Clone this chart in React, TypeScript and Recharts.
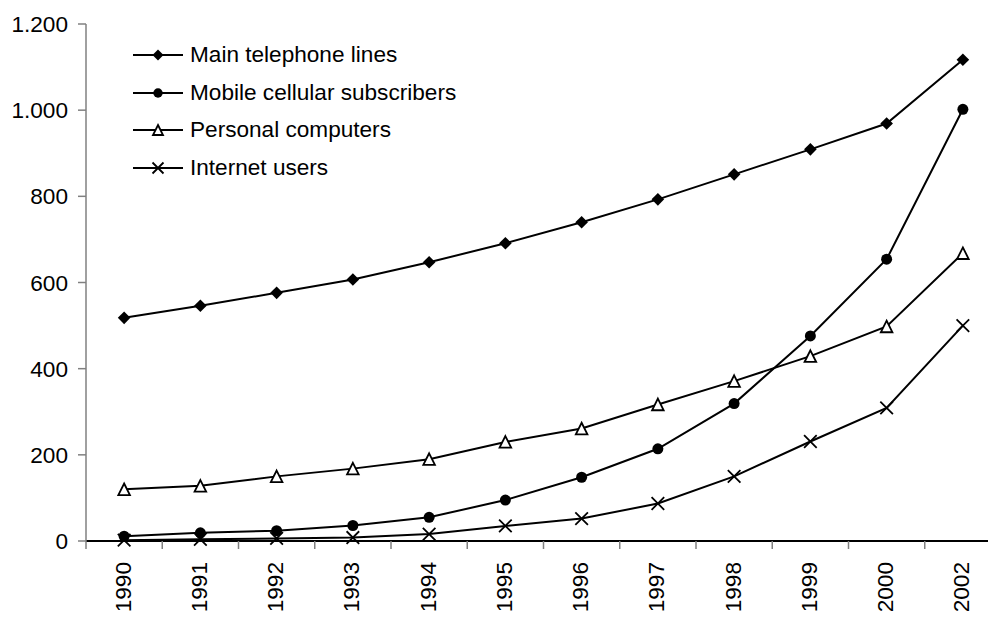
import React from 'react';
import { LineChart, Line, XAxis, YAxis, Legend } from 'recharts';

const years = ['1990', '1991', '1992', '1993', '1994', '1995', '1996', '1997', '1998', '1999', '2000', '2002'];
const mainLines = [518, 546, 576, 607, 647, 691, 740, 793, 851, 909, 969, 1117];
const mobile = [11, 19, 24, 36, 55, 95, 148, 214, 319, 476, 654, 1002];
const pcs = [120, 128, 150, 168, 190, 230, 261, 317, 371, 429, 498, 668];
const internet = [2, 4, 6, 8, 16, 35, 52, 87, 150, 231, 309, 500];
const yTicks = [0, 200, 400, 600, 800, 1000, 1200];
const yTickLabels = ['0', '200', '400', '600', '800', '1.000', '1.200'];
const seriesNames = ['Main telephone lines', 'Mobile cellular subscribers', 'Personal computers', 'Internet users'];

const data = years.map((y, i) => ({
  idx: i,
  year: y,
  main: mainLines[i],
  mobile: mobile[i],
  pcs: pcs[i],
  internet: internet[i],
}));

const xTicks: number[] = [];
for (let i = 0; i <= years.length; i++) xTicks.push(i - 0.5);
for (let i = 0; i < years.length; i++) xTicks.push(i);
xTicks.sort((a, b) => a - b);

const FONT = '"Liberation Sans", Arial, sans-serif';
const FS = 22.6;

type Kind = 'diamond' | 'circle' | 'triangle' | 'cross';

function marker(kind: Kind, cx: number, cy: number, s: number, key?: any) {
  if (kind === 'diamond') {
    return <path key={key} d={`M${cx},${cy - s}L${cx + s},${cy}L${cx},${cy + s}L${cx - s},${cy}Z`} fill="#000" />;
  }
  if (kind === 'circle') {
    return <circle key={key} cx={cx} cy={cy} r={s - 0.8} fill="#000" />;
  }
  if (kind === 'triangle') {
    const h = s - 0.5;
    return (
      <path
        key={key}
        d={`M${cx},${cy - h}L${cx + s - 0.5},${cy + h}L${cx - s + 0.5},${cy + h}Z`}
        fill="#fff"
        stroke="#000"
        strokeWidth={1.8}
      />
    );
  }
  return (
    <path
      key={key}
      d={`M${cx - s},${cy - s}L${cx + s},${cy + s}M${cx - s},${cy + s}L${cx + s},${cy - s}`}
      stroke="#000"
      strokeWidth={1.8}
      fill="none"
    />
  );
}

const makeDot = (kind: Kind) => (p: any) => marker(kind, p.cx, p.cy, 6.3, `${kind}-${p.index}`);

const kinds: Kind[] = ['diamond', 'circle', 'triangle', 'cross'];

const XTick = (props: any) => {
  const { x, y, payload } = props;
  const v = payload.value;
  if (Math.abs(v - Math.round(v)) > 0.1) {
    return <line x1={x} x2={x} y1={y} y2={y + 8} stroke="#808080" strokeWidth={1.5} />;
  }
  const label = years[Math.round(v)];
  return (
    <text
      x={0}
      y={0}
      transform={`translate(${x - 1},${y + 21}) rotate(-90)`}
      textAnchor="end"
      dominantBaseline="central"
      fontSize={FS}
      fontFamily={FONT}
      fill="#000"
    >
      {label}
    </text>
  );
};

const LegendContent = () => (
  <div style={{ fontFamily: FONT, fontSize: FS, color: '#000' }}>
    {seriesNames.map((n, i) => (
      <div key={n} style={{ display: 'flex', alignItems: 'center', height: 37.7, whiteSpace: 'nowrap' }}>
        <svg width={57} height={20} style={{ display: 'block' }}>
          <line x1={0} x2={50} y1={10} y2={10} stroke="#000" strokeWidth={1.8} />
          {marker(kinds[i], 25, 10, 5.5)}
        </svg>
        <span>{n}</span>
      </div>
    ))}
  </div>
);

export default function App() {
  return (
    <div style={{ position: 'absolute', left: 0, top: 0, width: 988, height: 618, overflow: 'hidden', background: '#fff' }}>
      <LineChart
        width={1001}
        height={618}
        data={data}
        margin={{ top: 24, right: 0, left: 0, bottom: 0 }}
      >
        <XAxis
          dataKey="idx"
          type="number"
          domain={[-0.5, years.length - 0.5]}
          ticks={xTicks}
          interval={0}
          allowDataOverflow
          tickLine={false}
          tickSize={0}
          tickMargin={0}
          axisLine={{ stroke: '#000', strokeWidth: 1.8 }}
          tick={<XTick />}
          height={77}
        />
        <YAxis
          domain={[0, 1200]}
          ticks={yTicks}
          interval={0}
          width={86}
          tickSize={8}
          tickMargin={10}
          axisLine={{ stroke: '#808080', strokeWidth: 1.5 }}
          tickLine={{ stroke: '#808080', strokeWidth: 1.5 }}
          tickFormatter={(v: number) => yTickLabels[yTicks.indexOf(v)]}
          tick={{ fill: '#000', fontSize: FS, fontFamily: FONT }}
        />
        <Legend
          layout="vertical"
          verticalAlign="middle"
          align="center"
          content={<LegendContent />}
          wrapperStyle={{ position: 'absolute', left: 133, top: 36, width: 'auto', height: 'auto' }}
        />
        <Line name={seriesNames[0]} dataKey="main" stroke="#000" strokeWidth={2} dot={makeDot('diamond')} activeDot={false} isAnimationActive={false} />
        <Line name={seriesNames[1]} dataKey="mobile" stroke="#000" strokeWidth={2} dot={makeDot('circle')} activeDot={false} isAnimationActive={false} />
        <Line name={seriesNames[2]} dataKey="pcs" stroke="#000" strokeWidth={2} dot={makeDot('triangle')} activeDot={false} isAnimationActive={false} />
        <Line name={seriesNames[3]} dataKey="internet" stroke="#000" strokeWidth={2} dot={makeDot('cross')} activeDot={false} isAnimationActive={false} />
      </LineChart>
    </div>
  );
}
